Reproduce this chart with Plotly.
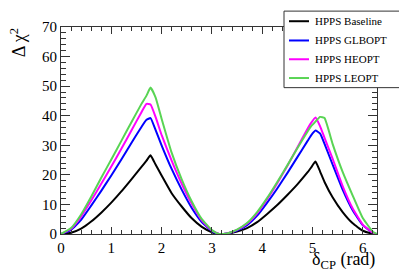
import plotly.graph_objects as go

# delta_CP grid (rad)
delta = [0, 0.2, 0.4, 0.6, 0.8, 1.0, 1.2, 1.4, 1.6, 1.7, 1.78, 1.88, 2.0, 2.2, 2.4, 2.6, 2.8, 3.0, 3.14,
         3.3, 3.5, 3.7, 3.9, 4.1, 4.3, 4.5, 4.7, 4.9, 4.97, 5.06, 5.15, 5.24, 5.4, 5.6, 5.8, 6.0, 6.2, 6.28]

baseline = [0, 0.4, 1.8, 4.2, 7.2, 10.6, 14.4, 18.5, 22.7, 24.8, 26.6, 23.5, 19.8, 13.8, 9.3, 5.3, 2.4, 0.6, 0,
            0.1, 0.8, 2.0, 4.0, 6.8, 9.8, 13.2, 16.8, 20.8, 22.4, 24.5, 21.2, 17.6, 12.4, 7.4, 3.6, 1.1, 0.1, 0]
glbopt = [0, 1.4, 4.8, 9.6, 14.6, 19.8, 25.2, 30.8, 36.2, 38.6, 39.2, 35.2, 30.0, 22.0, 15.0, 8.8, 4.0, 1.0, 0,
          0.2, 1.2, 3.0, 6.2, 10.6, 15.4, 20.6, 26.0, 31.4, 33.3, 35.0, 34.0, 30.5, 23.5, 15.0, 8.0, 3.0, 0.4, 0]
heopt = [0, 1.8, 5.9, 11.3, 17.0, 22.8, 28.8, 35.0, 41.2, 44.0, 43.8, 39.6, 33.5, 24.8, 17.0, 10.2, 4.6, 1.2, 0,
         0.2, 1.4, 3.5, 7.0, 11.8, 17.2, 23.0, 29.3, 35.5, 37.5, 39.4, 36.5, 32.5, 25.5, 16.2, 8.6, 3.2, 0.4, 0]
leopt = [0, 2.0, 6.6, 12.6, 19.0, 25.2, 31.5, 37.8, 44.0, 46.8, 49.5, 46.2, 39.0, 27.5, 18.5, 11.0, 5.0, 1.3, 0,
         0.2, 1.5, 3.7, 7.4, 12.2, 17.6, 23.2, 29.0, 34.6, 36.4, 38.0, 39.6, 39.2, 30.5, 21.0, 13.0, 5.4, 0.8, 0]

names = ["HPPS Baseline", "HPPS GLBOPT", "HPPS HEOPT", "HPPS LEOPT"]
colors = ["#000000", "#0000ff", "#ff00ff", "#59d454"]
series = [baseline, glbopt, heopt, leopt]

x_ticks = [0, 1, 2, 3, 4, 5, 6]
y_ticks = [0, 10, 20, 30, 40, 50, 60, 70]

serif = "Times New Roman, Liberation Serif, DejaVu Serif, serif"

fig = go.Figure()
for nm, col, ys in zip(names, colors, series):
    fig.add_trace(go.Scatter(x=delta, y=ys, mode="lines", name=nm,
                             line=dict(color=col, width=2, shape="spline", smoothing=0.4),
                             showlegend=False))

# the page body adds an 8px offset; compensate so the plot lands where the reference has it
OFF = 8
W, H = 407 - OFF, 276 - OFF
L, R, T, B = 61 - OFF, 30, 19 - OFF, 42
pw, ph = W - L - R, H - T - B

def px_x(p):
    return (p - OFF - L) / pw

def px_y(p):
    return (H - B - (p - OFF)) / ph

axis_col = "#333333"
fig.update_layout(
    width=W, height=H,
    margin=dict(l=L, r=R, t=T, b=B),
    plot_bgcolor="white", paper_bgcolor="white",
    font=dict(family=serif, color="black"),
    xaxis=dict(range=[0, 6.2832], tickvals=x_ticks, ticks="inside", ticklen=7, tickcolor=axis_col,
               showline=True, linecolor=axis_col, linewidth=1, mirror="allticks", showgrid=False,
               zeroline=False, tickfont=dict(size=15, family=serif),
               minor=dict(ticks="inside", ticklen=4, dtick=0.2, tickcolor=axis_col, showgrid=False)),
    yaxis=dict(range=[0, 70], tickvals=y_ticks, ticks="inside", ticklen=9, tickcolor=axis_col,
               showline=True, linecolor=axis_col, linewidth=1, mirror="allticks", showgrid=False,
               zeroline=False, tickfont=dict(size=15, family=serif),
               minor=dict(ticks="inside", ticklen=5, dtick=2, tickcolor=axis_col, showgrid=False)),
)

# axis titles
fig.add_annotation(text="Δ χ<sup>2</sup>", xref="paper", yref="paper", x=px_x(18), y=px_y(36),
                   textangle=-90, showarrow=False, font=dict(size=18, family=serif),
                   xanchor="center", yanchor="middle")
fig.add_annotation(text="δ<sub>CP</sub> (rad)", xref="paper", yref="paper", x=1.0, y=px_y(262),
                   showarrow=False, font=dict(size=18, family=serif), xanchor="right", yanchor="middle")

# legend box
fig.add_shape(type="rect", xref="paper", yref="paper", x0=px_x(284), x1=px_x(402), y0=px_y(82), y1=px_y(2.5),
              line=dict(color="#333333", width=1), fillcolor="white", layer="above")
rows = [13, 33, 52.5, 72]
for nm, col, ry in zip(names, colors, rows):
    fig.add_shape(type="line", xref="paper", yref="paper", x0=px_x(289), x1=px_x(309), y0=px_y(ry), y1=px_y(ry),
                  line=dict(color=col, width=2), layer="above")
    fig.add_annotation(text=nm, xref="paper", yref="paper", x=px_x(313), y=px_y(ry), showarrow=False,
                       xanchor="left", yanchor="middle", font=dict(size=11, family=serif))

fig.write_html("out.html")
